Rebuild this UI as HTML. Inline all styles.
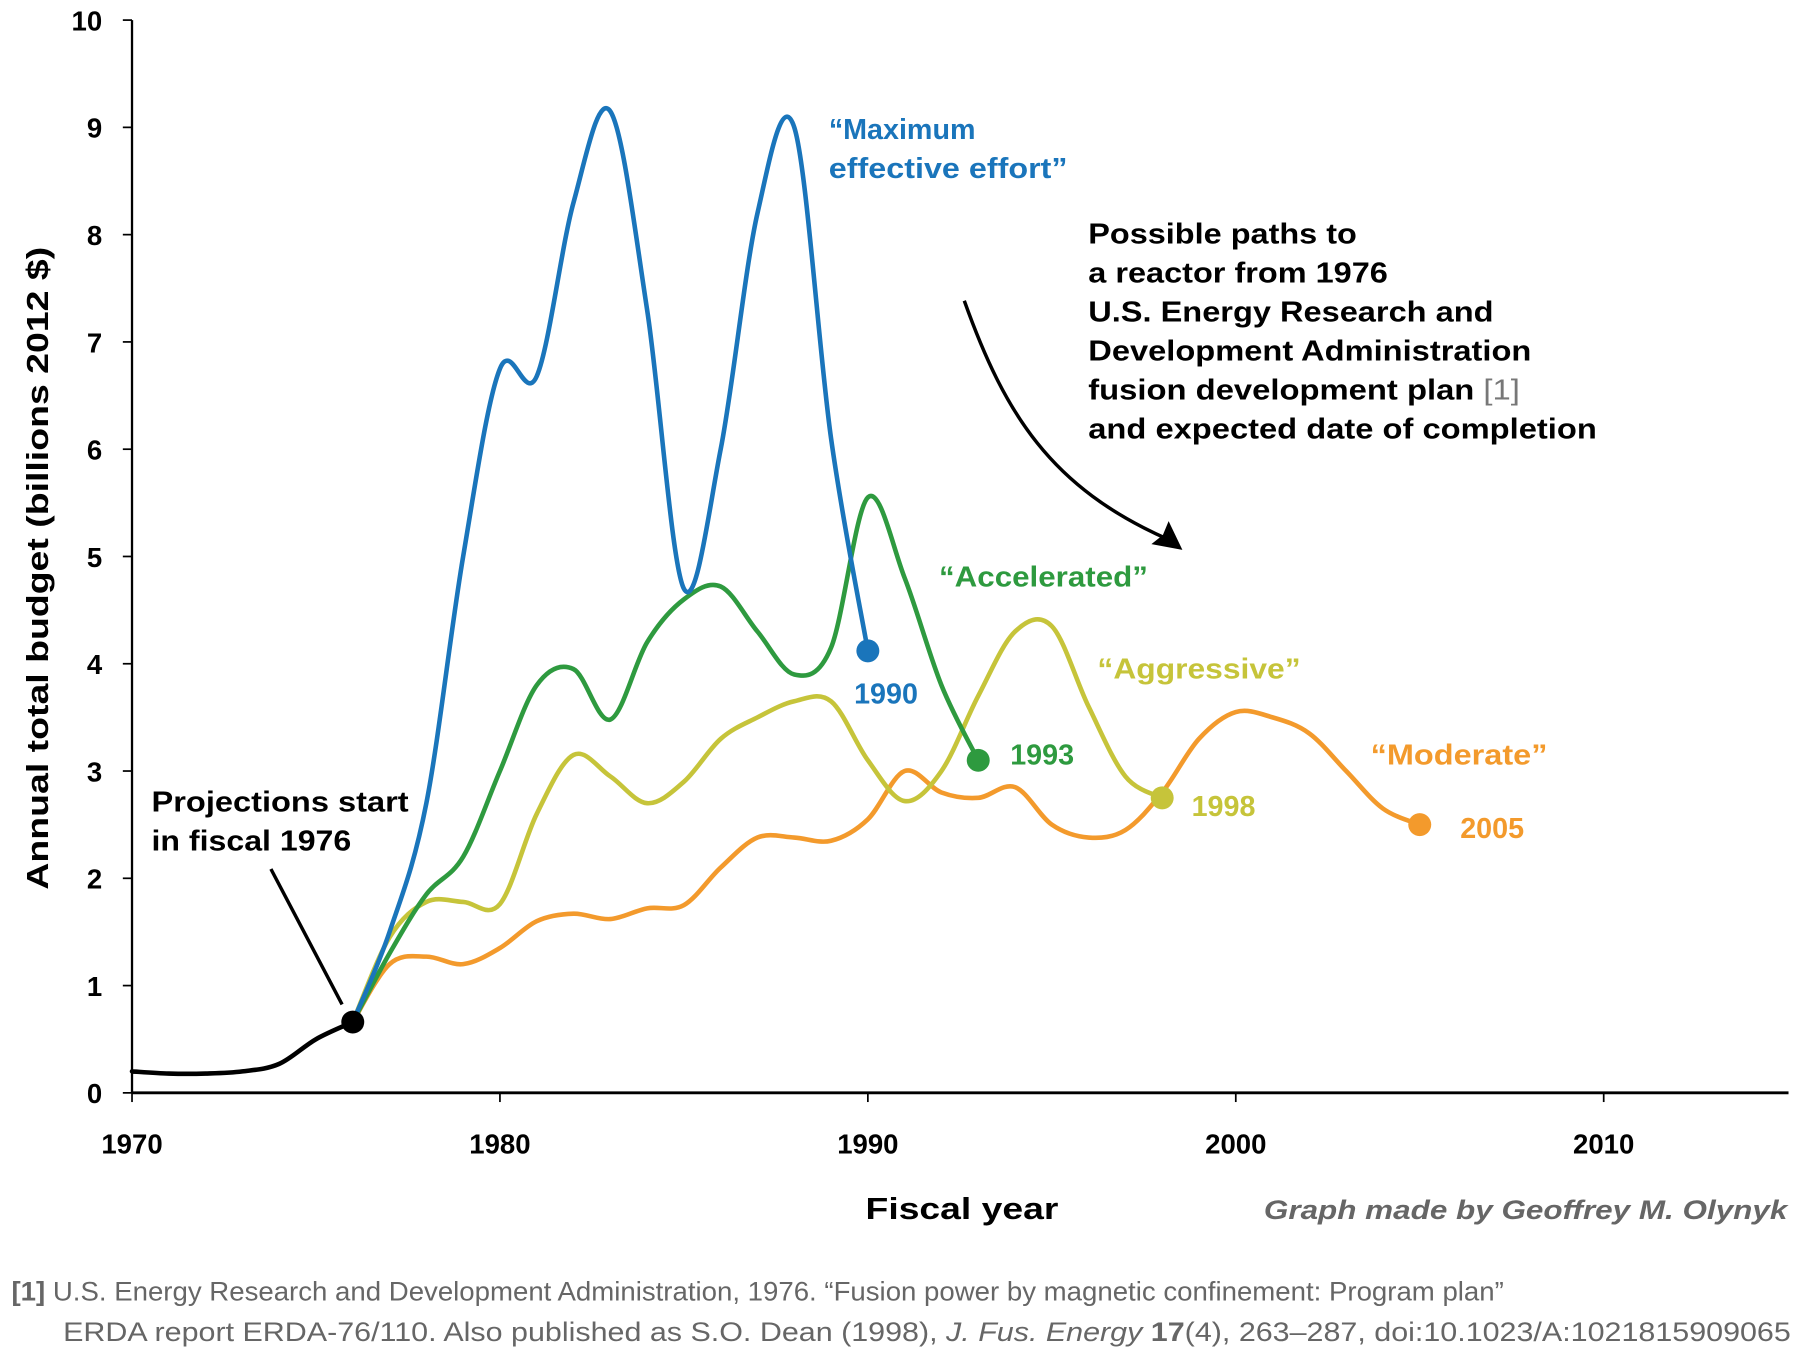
<!DOCTYPE html>
<html><head><meta charset="utf-8"><style>
html,body{margin:0;padding:0;background:#fff}
svg{display:block}
text{font-family:"Liberation Sans",Arial,sans-serif}
</style></head><body>
<svg id="chart" width="1800" height="1350" viewBox="0 0 1568 1176" xmlns="http://www.w3.org/2000/svg">
<g id="axes"></g>
<g id="series"></g>
<g font-weight="bold">
  <text transform="translate(42,495) rotate(-90)" text-anchor="middle" font-size="27" textLength="560" lengthAdjust="spacingAndGlyphs">Annual total budget (billions 2012 $)</text>
  <text x="838" y="1062" text-anchor="middle" font-size="27" textLength="168" lengthAdjust="spacingAndGlyphs">Fiscal year</text>
  <text x="1557" y="1062" text-anchor="end" font-size="23" font-style="italic" fill="#666" textLength="456" lengthAdjust="spacingAndGlyphs">Graph made by Geoffrey M. Olynyk</text>
  <text font-size="25" x="132" y="707" textLength="224" lengthAdjust="spacingAndGlyphs">Projections start</text>
  <text font-size="25" x="132" y="741" textLength="174" lengthAdjust="spacingAndGlyphs">in fiscal 1976</text>
  <line x1="236" y1="757" x2="298" y2="875" stroke="#000" stroke-width="3"/>
  <g font-size="25">
    <text x="948" y="212" textLength="234" lengthAdjust="spacingAndGlyphs">Possible paths to</text>
    <text x="948" y="246" textLength="261" lengthAdjust="spacingAndGlyphs">a reactor from 1976</text>
    <text x="948" y="280" textLength="353" lengthAdjust="spacingAndGlyphs">U.S. Energy Research and</text>
    <text x="948" y="314" textLength="386" lengthAdjust="spacingAndGlyphs">Development Administration</text>
    <text x="948" y="348" textLength="376" lengthAdjust="spacingAndGlyphs">fusion development plan <tspan fill="#777" font-weight="normal">[1]</tspan></text>
    <text x="948" y="382" textLength="443" lengthAdjust="spacingAndGlyphs">and expected date of completion</text>
  </g>
  <path d="M840,262 C875,360 915,425 1018,470" fill="none" stroke="#000" stroke-width="3"/>
  <path d="M1030,479 L1003,474 L1013,466 L1018,454 Z" fill="#000"/>
  <text fill="#1a75bb" font-size="25" x="722" y="121">“Maximum</text>
  <text fill="#1a75bb" font-size="25" x="722" y="155" textLength="208" lengthAdjust="spacingAndGlyphs">effective effort”</text>
  <text fill="#2e9a3f" font-size="25" x="818" y="511" textLength="182" lengthAdjust="spacingAndGlyphs">“Accelerated”</text>
  <text fill="#c6c43a" font-size="25" x="956" y="591" textLength="177" lengthAdjust="spacingAndGlyphs">“Aggressive”</text>
  <text fill="#f39a2c" font-size="25" x="1194" y="666" textLength="154" lengthAdjust="spacingAndGlyphs">“Moderate”</text>
  <text fill="#1a75bb" font-size="25" x="744" y="613">1990</text>
  <text fill="#2e9a3f" font-size="25" x="880" y="666">1993</text>
  <text fill="#c6c43a" font-size="25" x="1038" y="711">1998</text>
  <text fill="#f39a2c" font-size="25" x="1272" y="730">2005</text>
</g>
<g font-size="23" fill="#666">
  <text x="10" y="1133" textLength="1300" lengthAdjust="spacingAndGlyphs"><tspan font-weight="bold">[1]</tspan> U.S. Energy Research and Development Administration, 1976. “Fusion power by magnetic confinement: Program plan”</text>
  <text x="55" y="1168" textLength="1505" lengthAdjust="spacingAndGlyphs">ERDA report ERDA-76/110. Also published as S.O. Dean (1998), <tspan font-style="italic">J. Fus. Energy</tspan> <tspan font-weight="bold">17</tspan>(4), 263–287, doi:10.1023/A:1021815909065</text>
</g>
</svg>
<script>
const histYears=[1970,1971,1972,1973,1974,1975,1976];
const histVals=[0.2,0.18,0.18,0.2,0.27,0.5,0.66];
const maxYears=[1976,1977,1978,1979,1980,1981,1982,1983,1984,1985,1986,1987,1988,1989,1990];
const maxVals=[0.66,1.5,2.7,5.0,6.75,6.68,8.3,9.15,7.3,4.7,6.0,8.2,9.0,6.1,4.12];
const accYears=[1976,1977,1978,1979,1980,1981,1982,1983,1984,1985,1986,1987,1988,1989,1990,1991,1992,1993];
const accVals=[0.66,1.3,1.85,2.2,3.0,3.8,3.95,3.48,4.2,4.6,4.72,4.3,3.9,4.15,5.55,4.8,3.8,3.1];
const aggYears=[1976,1977,1978,1979,1980,1981,1982,1983,1984,1985,1986,1987,1988,1989,1990,1991,1992,1993,1994,1995,1996,1997,1998];
const aggVals=[0.66,1.45,1.78,1.78,1.76,2.6,3.15,2.95,2.7,2.9,3.3,3.5,3.65,3.65,3.1,2.72,3.0,3.7,4.3,4.35,3.6,2.95,2.75];
const modYears=[1976,1977,1978,1979,1980,1981,1982,1983,1984,1985,1986,1987,1988,1989,1990,1991,1992,1993,1994,1995,1996,1997,1998,1999,2000,2001,2002,2003,2004,2005];
const modVals=[0.66,1.2,1.27,1.2,1.35,1.6,1.67,1.62,1.72,1.75,2.1,2.38,2.38,2.35,2.55,3.0,2.8,2.75,2.85,2.5,2.38,2.45,2.8,3.3,3.55,3.5,3.35,3.0,2.65,2.5];
const xTicks=[1970,1980,1990,2000,2010];
const yTicks=[0,1,2,3,4,5,6,7,8,9,10];

const NS="http://www.w3.org/2000/svg";
const x=yr=>115+(yr-1970)*32.05;
const y=v=>952-v*93.45;
function mk(tag,attrs,parent){const e=document.createElementNS(NS,tag);for(const k in attrs)e.setAttribute(k,attrs[k]);parent.appendChild(e);return e;}
const axes=document.getElementById('axes');
const ser=document.getElementById('series');
let a=mk('line',{x1:x(1970),y1:y(0),x2:1558,y2:y(0),stroke:'#000','stroke-width':2.5},axes);


a=mk('line',{x1:x(1970),y1:y(0),x2:x(1970),y2:y(10),stroke:'#000','stroke-width':2},axes);


xTicks.forEach(t=>{
  mk('line',{x1:x(t),y1:y(0),x2:x(t),y2:y(0)+8,stroke:'#000','stroke-width':1.5},axes);
  const tx=mk('text',{x:x(t),y:1005,'text-anchor':'middle','font-size':24,'font-weight':'bold'},axes);
  tx.textContent=t;
  
  
});
yTicks.forEach(t=>{
  mk('line',{x1:x(1970)-8,y1:y(t),x2:x(1970),y2:y(t),stroke:'#000','stroke-width':1.5},axes);
  const tx=mk('text',{x:89,y:y(t)+9,'text-anchor':'end','font-size':24,'font-weight':'bold'},axes);
  tx.textContent=t;
  
  
});
function smooth(xs,vs){
  const p=xs.map((t,i)=>[x(t),y(vs[i])]);
  let d='M'+p[0][0]+','+p[0][1];
  for(let i=0;i<p.length-1;i++){
    const p0=p[i-1]||p[i],p1=p[i],p2=p[i+1],p3=p[i+2]||p2;
    const c1=[p1[0]+(p2[0]-p0[0])/6,p1[1]+(p2[1]-p0[1])/6];
    const c2=[p2[0]-(p3[0]-p1[0])/6,p2[1]-(p3[1]-p1[1])/6];
    d+=` C${c1[0]},${c1[1]} ${c2[0]},${c2[1]} ${p2[0]},${p2[1]}`;
  }
  return d;
}
function draw(xs,vs,color,name,endDot){
  const pth=mk('path',{d:smooth(xs,vs),fill:'none',stroke:color,'stroke-width':4,'stroke-linejoin':'round','stroke-linecap':'round'},ser);
  
  
  if(endDot){
    const n=xs.length-1;
    const c=mk('circle',{cx:x(xs[n]),cy:y(vs[n]),r:10,fill:color},ser);
    
    
  }
}
draw(modYears,modVals,'#f39a2c','moderate',true);
draw(aggYears,aggVals,'#c6c43a','aggressive',true);
draw(accYears,accVals,'#2e9a3f','accelerated',true);
draw(maxYears,maxVals,'#1a75bb','maximum-effort',true);
draw(histYears,histVals,'#000','historical',true);
</script>
</body></html>
